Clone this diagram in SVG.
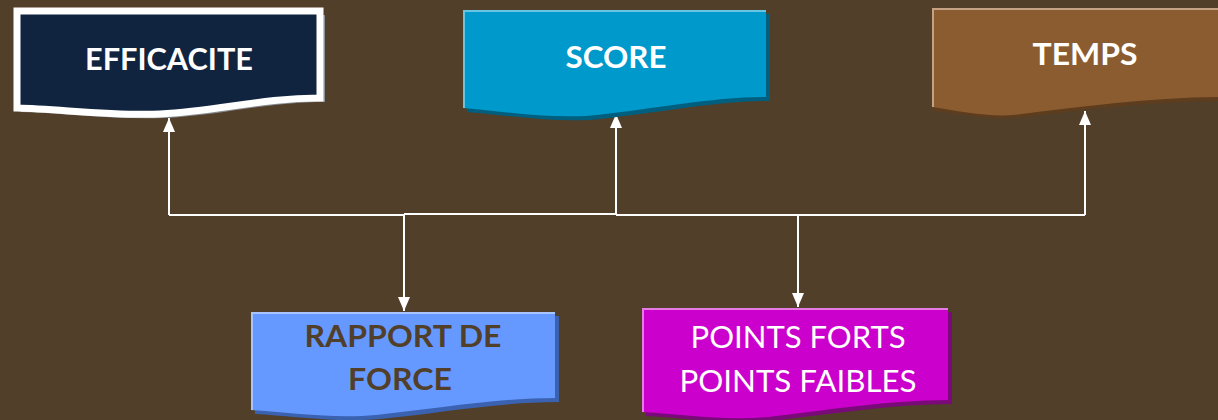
<svg xmlns="http://www.w3.org/2000/svg" width="1218" height="420" viewBox="0 0 1218 420">
  <defs>
    <style>
      .lbl { font-family: Lato, "Open Sans", "Liberation Sans", sans-serif; font-size: 30px; text-anchor: middle; }
      .b { font-weight: bold; }
      .w { fill: #ffffff; }
      .dk { fill: #523f29; }
      .wire { fill: none; stroke: #ffffff; stroke-width: 2; }
      .hl { fill: none; stroke-width: 2; }
    </style>
    <marker id="tip" viewBox="0 0 14 12" refX="14" refY="6" markerWidth="14" markerHeight="12" markerUnits="userSpaceOnUse" orient="auto">
      <path d="M0,0 L14,6 L0,12 Z" fill="#ffffff"/>
    </marker>
  </defs>

  <rect width="1218" height="420" fill="#523f29"/>

  <!-- connectors -->
  <g id="connectors">
    <path class="wire" d="M169,215 V118" marker-end="url(#tip)"/>
    <path class="wire" d="M169,215 H404"/>
    <path class="wire" d="M404,214 V311" marker-end="url(#tip)"/>
    <path class="wire" d="M404,214 H616"/>
    <path class="wire" d="M616,215 V114" marker-end="url(#tip)"/>
    <path class="wire" d="M616,215 H1085"/>
    <path class="wire" d="M1085,215 V111" marker-end="url(#tip)"/>
    <path class="wire" d="M798,215 V307" marker-end="url(#tip)"/>
  </g>

  <!-- EFFICACITE -->
  <g id="efficacite">
    <path d="M21,15 H325 V102 C265,102 225,115 165,118 C115,120 65,113 21,112 Z" fill="#8a8f96"/>
    <path d="M17,11 H320 V98 C260,98 220,111 160,114 C110,116 60,109 17,108 Z" fill="#10243f" stroke="#ffffff" stroke-width="7" stroke-linejoin="miter"/>
    <text class="lbl b w" x="169" y="70" textLength="168" lengthAdjust="spacingAndGlyphs">EFFICACITE</text>
  </g>

  <!-- SCORE -->
  <g id="score">
    <path d="M467,14 H770 V101 C715,101 660,113 590,120 C545,122 505,115 467,112 Z" fill="#005f7e"/>
    <path d="M463,10 H766 V97 C711,97 656,109 586,116 C541,118 501,111 463,108 Z" fill="#0099cb"/>
    <path class="hl" d="M464,108 V11 H766" stroke="#66c5e3"/>
    <text class="lbl b w" x="616" y="68" textLength="101" lengthAdjust="spacingAndGlyphs">SCORE</text>
  </g>

  <!-- TEMPS -->
  <g id="temps">
    <path d="M934,11 H1240 V101 C1160,100 1090,109 1015,118 C990,120 960,114 934,111 Z" fill="#5e3d1f"/>
    <path d="M932,8 H1238 V97 C1158,96 1088,106 1013,115 C988,117 958,111 932,107 Z" fill="#8c5c31"/>
    <path class="hl" d="M933,107 V9 H1218" stroke="#c4a283"/>
    <text class="lbl b w" x="1085" y="65" textLength="105" lengthAdjust="spacingAndGlyphs">TEMPS</text>
  </g>

  <!-- RAPPORT DE FORCE -->
  <g id="rapport">
    <path d="M255,316 H559 V402 C500,402 440,413 380,419 C335,423 295,416 255,414 Z" fill="#3a62b0"/>
    <path d="M251,312 H555 V398 C496,398 436,409 376,415 C331,419 291,412 251,410 Z" fill="#6699ff"/>
    <path class="hl" d="M252,410 V313 H555" stroke="#a8c4ff"/>
    <text class="lbl b dk" x="403" y="347" textLength="197" lengthAdjust="spacingAndGlyphs">RAPPORT DE</text>
    <text class="lbl b dk" x="400" y="390" textLength="104" lengthAdjust="spacingAndGlyphs">FORCE</text>
  </g>

  <!-- POINTS FORTS / POINTS FAIBLES -->
  <g id="points">
    <path d="M646,312 H952 V404 C892,404 832,414 772,421 C727,425 687,418 646,416 Z" fill="#7a0a7a"/>
    <path d="M642,308 H948 V400 C888,400 828,410 768,417 C723,421 683,414 642,412 Z" fill="#cc00cc"/>
    <path class="hl" d="M643,412 V309 H948" stroke="#e57ae5"/>
    <text class="lbl w" x="798" y="348" textLength="215" lengthAdjust="spacingAndGlyphs">POINTS FORTS</text>
    <text class="lbl w" x="798" y="392" textLength="237" lengthAdjust="spacingAndGlyphs">POINTS FAIBLES</text>
  </g>
</svg>
